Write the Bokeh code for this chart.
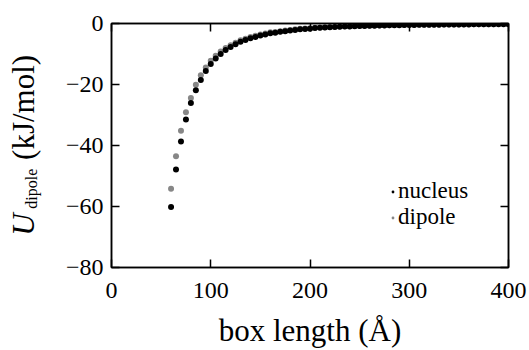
import numpy as np
from bokeh.plotting import figure
from bokeh.layouts import row
from bokeh.models import Range1d, LinearAxis, FixedTicker, Legend, LegendItem
from bokeh.core.properties import value
from bokeh.embed import file_html
from bokeh.resources import INLINE

box_length = list(range(60, 405, 5))
nucleus = [-60.2, -47.9, -38.7, -31.5, -26.1, -21.9, -18.5, -15.6, -13.3, -11.5,
           -10.0, -8.7, -7.7, -6.8, -6.0, -5.4, -4.8, -4.4, -3.9, -3.6,
           -3.2, -3.0, -2.7, -2.5, -2.3, -2.1, -1.9, -1.8, -1.7, -1.5,
           -1.4, -1.3, -1.25, -1.17, -1.09, -1.02, -0.96, -0.90, -0.85, -0.80,
           -0.76, -0.71, -0.68, -0.64, -0.61, -0.57, -0.55, -0.52, -0.49, -0.47,
           -0.45, -0.43, -0.41, -0.39, -0.37, -0.35, -0.34, -0.32, -0.31, -0.30,
           -0.29, -0.27, -0.26, -0.25, -0.24, -0.23, -0.22, -0.22, -0.21]
dipole = [-54.2, -43.5, -35.2, -29.1, -24.4, -20.1, -17.0, -14.4, -12.2, -10.6,
          -9.2, -8.0, -7.1, -6.3, -5.5, -5.0, -4.4, -4.0, -3.6, -3.3,
          -2.9, -2.8, -2.5, -2.3, -2.1, -1.9, -1.75, -1.65, -1.55, -1.4,
          -1.3, -1.2, -1.15, -1.08, -1.0, -0.94, -0.88, -0.83, -0.78, -0.74,
          -0.70, -0.65, -0.63, -0.59, -0.56, -0.52, -0.51, -0.48, -0.45, -0.43,
          -0.41, -0.40, -0.38, -0.36, -0.34, -0.32, -0.31, -0.29, -0.29, -0.28,
          -0.27, -0.25, -0.24, -0.23, -0.22, -0.21, -0.20, -0.20, -0.19]
x_ticks = [0, 100, 200, 300, 400]
y_ticks = [0, -20, -40, -60, -80]
y_tick_labels = {0: "0", -20: "\u221220", -40: "\u221240", -60: "\u221260", -80: "\u221280"}
y_label_parts = ["U", "dipole", "(kJ/mol)"]

FONT = "Liberation Serif"
W, H = 529, 350
LW = 45            # width of the strip holding the y-axis title
TOP, BOTTOM = 23, 82

# ---- strip with the composite y-axis title (data coords = page pixels, y measured upward) ----
ylab = figure(width=LW, height=H, output_backend="svg", toolbar_location=None,
              x_range=Range1d(0, LW), y_range=Range1d(BOTTOM, H - TOP),
              x_axis_type=None, y_axis_type=None,
              min_border_left=0, min_border_right=0, min_border_top=TOP, min_border_bottom=BOTTOM)
ylab.xgrid.visible = False
ylab.ygrid.visible = False
ylab.outline_line_color = None
ylab.background_fill_color = "white"
ylab.border_fill_color = "white"
ang = np.pi / 2
ylab.text(x=[22.5], y=[H - 236], text=[y_label_parts[0]], angle=ang, text_font=value(FONT),
          text_font_size=value("31px"), text_font_style="italic", text_align="left",
          text_baseline="middle", text_color="black")
ylab.text(x=[30.6], y=[H - 209], text=[y_label_parts[1]], angle=ang, text_font=value(FONT),
          text_font_size=value("16px"), text_align="left",
          text_baseline="middle", text_color="black")
ylab.text(x=[22.5], y=[H - 160], text=[y_label_parts[2]], angle=ang, text_font=value(FONT),
          text_font_size=value("31px"), text_align="left",
          text_baseline="middle", text_color="black")

# ---- main plot ----
p = figure(width=W - LW, height=H, output_backend="svg", toolbar_location=None,
           x_range=Range1d(0, 400), y_range=Range1d(-80, 0),
           min_border_left=111 - LW, min_border_right=21, min_border_top=TOP, min_border_bottom=BOTTOM)
p.xgrid.visible = False
p.ygrid.visible = False
p.outline_line_color = "black"
p.outline_line_width = 1.5
p.background_fill_color = "white"
p.border_fill_color = "white"

r_dip = p.scatter(box_length, dipole, size=6, color="#878787", line_color=None)
r_nuc = p.scatter(box_length, nucleus, size=6, color="black", line_color=None)

def style_axis(ax, show_labels=True):
    ax.axis_line_width = 1.5
    ax.axis_line_color = "black"
    ax.major_tick_line_width = 1.5
    ax.major_tick_line_color = "black"
    ax.major_tick_in = 8
    ax.major_tick_out = 0
    ax.minor_tick_line_color = None
    ax.major_label_text_font = FONT
    if show_labels:
        ax.major_label_text_font_size = "24px"
        ax.major_label_text_color = "black"
    else:
        ax.major_label_text_font_size = "8px"
        ax.major_label_text_color = None
        ax.major_label_standoff = 0

xa = p.xaxis[0]
xa.ticker = FixedTicker(ticks=x_ticks)
style_axis(xa)
xa.major_label_standoff = 15
xa.axis_label = "box length (\u00c5)"
xa.axis_label_text_font = FONT
xa.axis_label_text_font_size = "31px"
xa.axis_label_text_font_style = "normal"
xa.axis_label_text_color = "black"
xa.axis_label_standoff = 12

ya = p.yaxis[0]
ya.ticker = FixedTicker(ticks=y_ticks)
style_axis(ya)
ya.major_label_standoff = 8
ya.major_label_overrides = y_tick_labels

top = LinearAxis(ticker=FixedTicker(ticks=x_ticks))
style_axis(top, False)
p.add_layout(top, "above")
right = LinearAxis(ticker=FixedTicker(ticks=y_ticks))
style_axis(right, False)
p.add_layout(right, "right")

legend = Legend(items=[LegendItem(label="nucleus", renderers=[r_nuc]),
                       LegendItem(label="dipole", renderers=[r_dip])],
                location=(278, 37), orientation="vertical",
                label_text_font=FONT, label_text_font_size="23px", label_text_color="black",
                glyph_width=7, glyph_height=7, label_standoff=2, spacing=0, padding=0, margin=0,
                border_line_color=None, background_fill_alpha=0)
p.add_layout(legend)

layout = row(ylab, p)
open("out.html", "w").write(file_html(layout, INLINE))
